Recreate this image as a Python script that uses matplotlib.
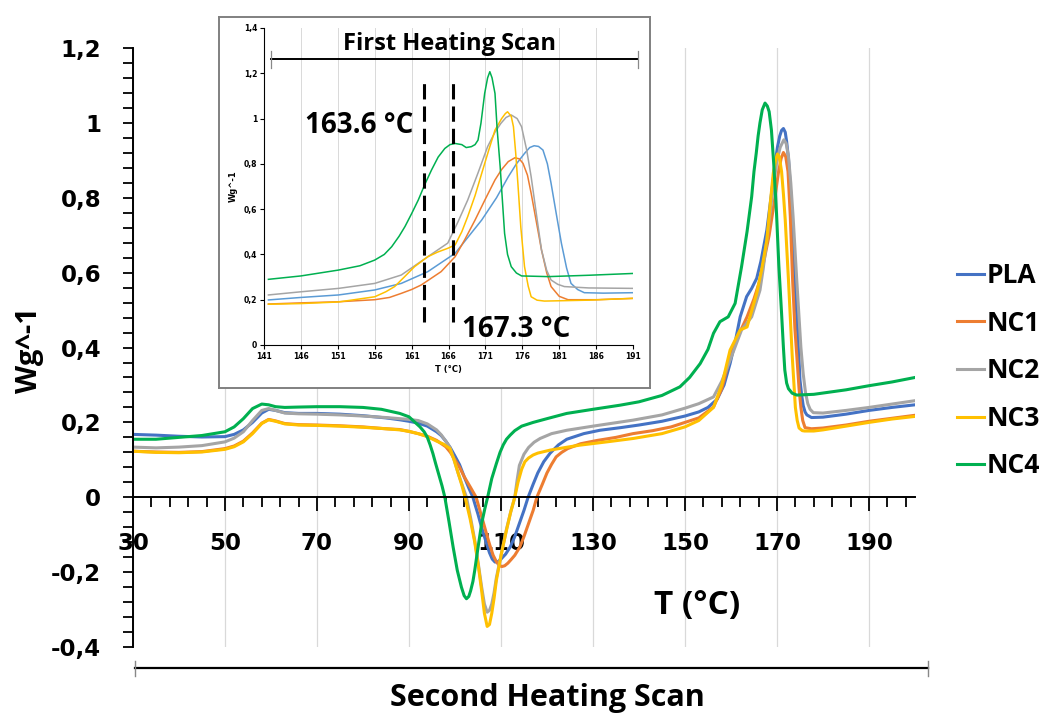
import matplotlib
matplotlib.use("Agg")
import matplotlib.pyplot as plt
from matplotlib.ticker import MultipleLocator

# ---- second heating scan (main chart) ----
pla_t = [30, 35, 40, 45, 50, 52, 54, 56, 58, 59.5, 61, 63, 66, 70, 75, 80, 85, 88, 90, 92, 94, 96, 97,
         98, 99, 100, 101, 102, 103, 103.9, 104.5, 105, 105.6, 106.2, 106.9, 107.5, 108.1, 108.7, 109.4,
         110, 111, 112, 113, 114, 115, 115.9, 117, 118, 119.3, 120.7, 122.5, 124.3, 128, 131.5, 136, 140,
         145, 150, 153, 155, 157, 158.5, 159.8, 161, 162, 163.4, 164.5, 165.6, 166.5, 167.8, 168.8, 169.6,
         170.1, 170.6, 171, 171.4, 171.8, 172.1, 172.5, 172.8, 173.1, 173.4, 173.9, 174.5, 175, 175.4,
         175.7, 176.1, 176.5, 177.5, 180, 185, 190, 195, 200]
pla_v = [0.168, 0.166, 0.163, 0.161, 0.162, 0.168, 0.18, 0.2, 0.225, 0.235, 0.232, 0.226, 0.224, 0.224,
         0.222, 0.218, 0.212, 0.207, 0.203, 0.198, 0.19, 0.175, 0.165, 0.15, 0.132, 0.11, 0.087, 0.055,
         0.025, 0.0, -0.025, -0.045, -0.072, -0.097, -0.125, -0.148, -0.165, -0.173, -0.172, -0.165, -0.152,
         -0.133, -0.105, -0.07, -0.035, 0.0, 0.035, 0.065, 0.095, 0.118, 0.14, 0.155, 0.17, 0.179, 0.186,
         0.193, 0.203, 0.217, 0.228, 0.24, 0.262, 0.3, 0.357, 0.42, 0.482, 0.536, 0.558, 0.585, 0.63, 0.714,
         0.81, 0.892, 0.935, 0.965, 0.98, 0.985, 0.975, 0.95, 0.905, 0.848, 0.79, 0.72, 0.58, 0.44, 0.313,
         0.27, 0.245, 0.228, 0.22, 0.213, 0.214, 0.222, 0.232, 0.24, 0.247]

nc1_t = [30, 35, 40, 45, 50, 52, 54, 56, 58, 59.5, 61, 63, 66, 70, 75, 80, 85, 88, 90, 92, 94, 96, 98,
         99, 100, 101, 102, 103.3, 104.6, 105.3, 106, 106.8, 107.5, 108.3, 109, 109.6, 110.2, 110.8, 111.5,
         112.3, 113, 114.1, 115, 116, 117, 117.8, 119, 120, 121, 122, 123.2, 124.5, 127.3, 131, 135, 138.7,
         143, 147, 150, 153, 156.2, 158, 159.8, 161.5, 163.5, 165, 166.3, 167.3, 168.3, 169.3, 170.3,
         170.9, 171.4, 171.9, 172.4, 172.9, 173.4, 173.9, 174.3, 174.8, 175.2, 175.6, 176.1, 177.5, 180,
         185, 190, 195, 200]
nc1_v = [0.123, 0.121, 0.12, 0.122, 0.13, 0.137, 0.15, 0.172, 0.198, 0.208, 0.204, 0.197, 0.194, 0.193,
         0.191, 0.188, 0.183, 0.181, 0.176, 0.17, 0.163, 0.152, 0.135, 0.12, 0.1, 0.08, 0.055, 0.028, 0.0,
         -0.03, -0.06, -0.095, -0.125, -0.155, -0.172, -0.182, -0.185, -0.183, -0.176, -0.165, -0.155,
         -0.133, -0.105, -0.07, -0.035, 0.0, 0.035, 0.065, 0.088, 0.108, 0.12, 0.13, 0.143, 0.152, 0.16,
         0.17, 0.178, 0.188, 0.2, 0.212, 0.241, 0.29, 0.375, 0.43, 0.482, 0.53, 0.58, 0.64, 0.7, 0.78,
         0.866, 0.905, 0.921, 0.91, 0.87, 0.75, 0.58, 0.45, 0.38, 0.29, 0.24, 0.205, 0.186, 0.183, 0.185,
         0.193, 0.203, 0.211, 0.219]

nc2_t = [30, 35, 40, 45, 50, 52, 54, 56, 58, 59.5, 61, 63, 66, 70, 75, 80, 85, 88, 90, 92, 94, 96, 97,
         98, 98.9, 99.8, 100.7, 101.6, 102.5, 103.4, 104.3, 105.1, 105.8, 106.4, 107, 107.5, 108, 108.5,
         109, 110.1, 111.2, 112.1, 113, 113.5, 114, 115, 116, 117.2, 118.5, 121, 124.3, 130, 138.7, 145,
         150, 153, 156.2, 158, 159.8, 162.3, 164.5, 166.3, 167, 167.8, 168.8, 169.9, 170.7, 171.5, 172,
         172.5, 173, 173.5, 174.3, 175.2, 175.7, 176.2, 176.7, 177.2, 177.9, 180, 185, 190, 195, 200]
nc2_v = [0.134, 0.132, 0.134, 0.138, 0.148, 0.158, 0.175, 0.205, 0.232, 0.237, 0.232, 0.225, 0.223,
         0.222, 0.22, 0.217, 0.213, 0.21, 0.208, 0.205, 0.196, 0.18, 0.167, 0.15, 0.134, 0.1, 0.064, 0.032,
         0.0, -0.055, -0.115, -0.18, -0.24, -0.285, -0.307, -0.302, -0.285, -0.255, -0.215, -0.15, -0.085,
         -0.04, 0.0, 0.045, 0.085, 0.115, 0.133, 0.147, 0.157, 0.17, 0.179, 0.19, 0.206, 0.22, 0.238, 0.25,
         0.268, 0.31, 0.366, 0.447, 0.482, 0.553, 0.61, 0.687, 0.79, 0.893, 0.935, 0.955, 0.945, 0.91, 0.84,
         0.75, 0.58, 0.4, 0.33, 0.28, 0.25, 0.235, 0.226, 0.225, 0.232, 0.24, 0.249, 0.258]

nc3_t = [30, 35, 40, 45, 50, 52, 54, 56, 58, 59.5, 61, 63, 66, 70, 75, 80, 85, 88, 90, 92, 94, 96, 97.5,
         98.9, 99.8, 100.7, 101.5, 102.2, 103.3, 104.3, 105.1, 105.8, 106.4, 107, 107.5, 108, 108.5, 109,
         110.1, 111.2, 112.1, 113, 113.7, 114.5, 115.2, 116, 117, 118, 120.7, 124, 127, 133, 138.7, 145,
         150, 153, 156.2, 158, 159.8, 162, 163.5, 165.6, 166.7, 167.8, 168.5, 169.2, 169.7, 170.1, 170.5,
         171, 171.4, 171.8, 172.5, 173.3, 173.7, 174, 174.4, 174.8, 175.5, 176, 178, 180, 185, 190, 195,
         200]
nc3_v = [0.123, 0.12, 0.119, 0.121, 0.128, 0.135, 0.148, 0.17, 0.197, 0.207, 0.203, 0.196, 0.193,
         0.192, 0.19, 0.187, 0.183, 0.18, 0.176, 0.17, 0.162, 0.15, 0.142, 0.13, 0.1, 0.064, 0.032, 0.0,
         -0.058, -0.12, -0.185, -0.25, -0.31, -0.345, -0.34, -0.31, -0.27, -0.222, -0.15, -0.088, -0.04,
         0.0, 0.04, 0.075, 0.095, 0.105, 0.113, 0.118, 0.126, 0.133, 0.139, 0.148, 0.157, 0.17, 0.188,
         0.205, 0.24, 0.3, 0.393, 0.447, 0.455, 0.545, 0.61, 0.687, 0.78, 0.866, 0.9, 0.917, 0.91, 0.87,
         0.81, 0.74, 0.58, 0.38, 0.3, 0.24, 0.205, 0.185, 0.178, 0.177, 0.177, 0.18, 0.19, 0.2, 0.209,
         0.216]

nc4_t = [30, 35, 40, 45, 50, 52, 54, 56, 58, 59.5, 61, 63, 66, 70, 75, 80, 84, 88, 90, 92.4, 93.3, 94,
         94.6, 95.2, 95.8, 96.5, 97.2, 97.8, 98.7, 99.6, 100.5, 101.4, 102, 102.5, 103, 103.4, 103.9, 104.3,
         105, 105.8, 106.5, 107.1, 108, 109, 109.8, 110.5, 111.2, 112, 113, 114.5, 117, 120, 124.3, 130,
         135.9, 140, 145, 148.9, 151, 153.3, 155, 156.2, 157.6, 159.4, 160.9, 162.3, 163.5, 164.5, 165,
         165.5, 165.9, 166.3, 166.8, 167.4, 167.9, 168.3, 168.8, 169.3, 169.9, 170.4, 171, 171.4, 171.7,
         172.1, 172.5, 173.3, 174.3, 178, 185, 190, 195, 200]
nc4_v = [0.155, 0.155, 0.16, 0.165, 0.175, 0.188, 0.21, 0.237, 0.249, 0.247, 0.242, 0.24, 0.241,
         0.242, 0.242, 0.24, 0.235, 0.224, 0.215, 0.188, 0.175, 0.16, 0.14, 0.117, 0.09, 0.06, 0.03, 0.0,
         -0.065, -0.133, -0.195, -0.24, -0.263, -0.271, -0.265, -0.25, -0.225, -0.195, -0.135, -0.07,
         -0.03, 0.0, 0.05, 0.09, 0.12, 0.14, 0.155, 0.166, 0.178, 0.19, 0.2, 0.21, 0.224, 0.235, 0.246,
         0.255, 0.272, 0.295, 0.32, 0.357, 0.395, 0.438, 0.469, 0.482, 0.518, 0.616, 0.71, 0.803, 0.87,
         0.92, 0.965, 1.0, 1.035, 1.053, 1.045, 1.03, 0.98, 0.89, 0.758, 0.62, 0.491, 0.4, 0.34, 0.305,
         0.29, 0.278, 0.273, 0.275, 0.287, 0.298, 0.308, 0.32]

# ---- first heating scan (inset) ----
pla1_t = [141.6, 146, 151.1, 156, 159.6, 163.2, 166.9, 170.5, 172.5, 174.1, 175.2, 176.3, 177, 177.6,
          178.2, 178.8, 179.4, 179.9, 180.6, 181.3, 182, 182.6, 183.5, 184.4, 187, 191]
pla1_v = [0.199, 0.21, 0.221, 0.243, 0.272, 0.324, 0.405, 0.552, 0.65, 0.743, 0.8, 0.846, 0.872, 0.88,
          0.877, 0.861, 0.8, 0.714, 0.58, 0.449, 0.34, 0.272, 0.245, 0.231, 0.229, 0.231]
nc11_t = [141.6, 146, 151.1, 156, 158, 159.6, 161, 162.3, 165, 166.9, 168.2, 169.6, 171, 172.3, 173.2,
          174.1, 175, 175.6, 176.1, 176.7, 177.2, 177.9, 178.6, 179.3, 179.9, 181, 182.2, 186, 191]
nc11_v = [0.181, 0.186, 0.191, 0.2, 0.21, 0.228, 0.245, 0.265, 0.324, 0.39, 0.465, 0.552, 0.645, 0.729,
          0.775, 0.81, 0.827, 0.822, 0.802, 0.75, 0.67, 0.545, 0.42, 0.32, 0.258, 0.215, 0.2, 0.2, 0.206]
nc21_t = [141.6, 146, 151.1, 156, 159.6, 163.2, 165.9, 167.3, 168.6, 170, 171.3, 172.3, 173.1, 173.8,
          174.5, 175.3, 175.9, 176.6, 177.2, 177.9, 178.6, 179.3, 179.9, 180.8, 181.7, 185, 191]
nc21_v = [0.221, 0.235, 0.25, 0.272, 0.309, 0.39, 0.45, 0.545, 0.64, 0.76, 0.876, 0.94, 0.979, 1.005,
          1.016, 1.0, 0.964, 0.86, 0.743, 0.58, 0.42, 0.33, 0.287, 0.268, 0.258, 0.252, 0.25]
nc31_t = [141.6, 146, 151.1, 156, 157.5, 158.7, 160, 161.4, 163.2, 164.5, 165.9, 166.9, 167.8, 168.6,
          169.6, 170.5, 171.4, 172.3, 173.2, 173.7, 174, 174.5, 174.8, 175.1, 175.4, 175.8, 176.3, 176.8,
          177.2, 178, 179, 185, 191]
nc31_v = [0.18, 0.183, 0.19, 0.213, 0.235, 0.258, 0.3, 0.346, 0.39, 0.41, 0.427, 0.442, 0.5, 0.567,
          0.66, 0.758, 0.855, 0.949, 1.0, 1.022, 1.03, 1.01, 0.964, 0.85, 0.714, 0.52, 0.346, 0.26, 0.213,
          0.198, 0.194, 0.198, 0.206]
nc41_t = [141.6, 146, 151.1, 154, 156, 157.3, 158.3, 159.3, 160.1, 161, 161.9, 162.8, 163.7, 164.6,
          165.5, 166.2, 166.9, 167.8, 168.4, 169.1, 169.6, 170, 170.4, 170.9, 171.3, 171.6, 171.9, 172.3,
          172.6, 173, 173.3, 173.6, 174, 174.5, 175.2, 175.9, 179.5, 185, 191]
nc41_v = [0.29, 0.305, 0.331, 0.35, 0.375, 0.4, 0.434, 0.48, 0.523, 0.58, 0.64, 0.71, 0.773, 0.83,
          0.868, 0.885, 0.89, 0.885, 0.872, 0.876, 0.885, 0.905, 0.98, 1.111, 1.18, 1.207, 1.18, 1.111,
          0.95, 0.788, 0.64, 0.493, 0.4, 0.346, 0.318, 0.305, 0.302, 0.308, 0.316]

names = ["PLA", "NC1", "NC2", "NC3", "NC4"]
main_colors = ["#4472C4", "#ED7D31", "#A5A5A5", "#FFC000", "#00B050"]
inset_colors = ["#5B9BD5", "#ED7D31", "#A5A5A5", "#FFC000", "#00B050"]

x_ticks = [30, 50, 70, 90, 110, 130, 150, 170, 190]
y_ticks = [-0.4, -0.2, 0, 0.2, 0.4, 0.6, 0.8, 1.0, 1.2]
y_labels = ["-0,4", "-0,2", "0", "0,2", "0,4", "0,6", "0,8", "1", "1,2"]
ix_ticks = [141, 146, 151, 156, 161, 166, 171, 176, 181, 186, 191]
iy_ticks = [0, 0.2, 0.4, 0.6, 0.8, 1.0, 1.2, 1.4]
iy_labels = ["0", "0,2", "0,4", "0,6", "0,8", "1", "1,2", "1,4"]
onsets = [162.7, 166.6]

BIG = dict(family="Open Sans", weight="bold")

fig = plt.figure(figsize=(10.42, 7.17), dpi=100)
ax = fig.add_axes([0.1276, 0.0976, 0.7505, 0.8354])

main = [(pla_t, pla_v), (nc1_t, nc1_v), (nc2_t, nc2_v), (nc3_t, nc3_v), (nc4_t, nc4_v)]
for (t, v), c, n in zip(main, main_colors, names):
    ax.plot(t, v, color=c, lw=2.2, label=n, solid_joinstyle="round")

ax.set_xlim(30, 200)
ax.set_ylim(-0.4, 1.2)
for s in ["top", "right"]:
    ax.spines[s].set_visible(False)
ax.spines["bottom"].set_position(("data", 0))
ax.spines["bottom"].set_linewidth(1.4)
ax.spines["left"].set_linewidth(1.4)

ax.set_xticks(x_ticks)
ax.set_xticklabels([str(x) for x in x_ticks])
ax.xaxis.set_minor_locator(MultipleLocator(4, offset=2))
ax.set_yticks(y_ticks)
ax.set_yticklabels(y_labels)
ax.yaxis.set_minor_locator(MultipleLocator(0.04))
ax.tick_params(axis="x", which="major", length=10, width=1.3, pad=15)
ax.tick_params(axis="x", which="minor", length=7, width=1.3)
ax.tick_params(axis="y", which="both", length=7, width=1.3, pad=16)
for lab in ax.get_xticklabels() + ax.get_yticklabels():
    lab.set_fontweight("bold")
    lab.set_fontsize(16.5)
ax.grid(axis="x", which="major", color="#D9D9D9", lw=0.9)
ax.set_axisbelow(True)

ax.text(152.6, -0.289, "T (°C)", ha="center", va="center", fontsize=24, **BIG)
fig.text(29 / 1042, 1 - 350 / 717, "Wg^-1", rotation=90, ha="center", va="center", fontsize=21, **BIG)

# bracket + label under the chart
ax.plot([30.5, 202.8], [-0.457, -0.457], color="black", lw=1.6, clip_on=False)
ax.plot([30.5, 30.5], [-0.437, -0.477], color="#888888", lw=1, clip_on=False)
ax.plot([202.8, 202.8], [-0.437, -0.477], color="#888888", lw=1, clip_on=False)
ax.text(120, -0.537, "Second Heating Scan", ha="center", va="center", fontsize=22, clip_on=False, **BIG)

fig.legend(loc="upper left", bbox_to_anchor=(0.9184, 0.6346), frameon=False,
           prop=dict(family="Open Sans", weight="bold", size=19), handlelength=1.02,
           handletextpad=0.12, labelspacing=0.78, borderpad=0, borderaxespad=0)

# ---- inset ----
box = fig.add_axes([219 / 1042, 1 - 388 / 717, 431 / 1042, 371 / 717])
box.set_xticks([])
box.set_yticks([])
for s in box.spines.values():
    s.set_color("#808080")
    s.set_linewidth(1.4)

ins = fig.add_axes([264 / 1042, 1 - 345 / 717, 369 / 1042, 317 / 717])
ins.patch.set_alpha(0)
first = [(pla1_t, pla1_v), (nc11_t, nc11_v), (nc21_t, nc21_v), (nc31_t, nc31_v), (nc41_t, nc41_v)]
for (t, v), c in zip(first, inset_colors):
    ins.plot(t, v, color=c, lw=1.1, solid_joinstyle="round")
ins.set_xlim(141, 191)
ins.set_ylim(0, 1.4)
for s in ["top", "right"]:
    ins.spines[s].set_visible(False)
ins.set_xticks(ix_ticks)
ins.set_yticks(iy_ticks)
ins.set_yticklabels(iy_labels)
ins.tick_params(length=3, width=0.8, pad=2, labelsize=5.5)
for lab in ins.get_xticklabels() + ins.get_yticklabels():
    lab.set_fontweight("bold")
ins.grid(axis="x", color="#D9D9D9", lw=0.7)
ins.set_axisbelow(True)
ins.set_xlabel("T (°C)", fontsize=6, fontweight="bold", labelpad=3)
ins.set_ylabel("Wg^-1", fontsize=6, fontweight="bold", labelpad=4)

for x in onsets:
    ins.plot([x, x], [0.1, 1.17], color="black", lw=2.2, ls=(0, (5, 2.3)))
ins.text(161.2, 0.936, "163.6 °C", ha="right", va="baseline", fontsize=20, **BIG)
ins.text(167.8, 0.037, "167.3 °C", ha="left", va="baseline", fontsize=20, **BIG)

ins.plot([142.0, 191.7], [1.262, 1.262], color="black", lw=1.4, clip_on=False)
ins.plot([142.0, 142.0], [1.225, 1.3], color="#888888", lw=0.9, clip_on=False)
ins.plot([191.7, 191.7], [1.225, 1.3], color="#888888", lw=0.9, clip_on=False)
ins.text(166.2, 1.303, "First Heating Scan", ha="center", va="baseline", fontsize=17, clip_on=False, **BIG)

fig.savefig("out.png", dpi=100)
